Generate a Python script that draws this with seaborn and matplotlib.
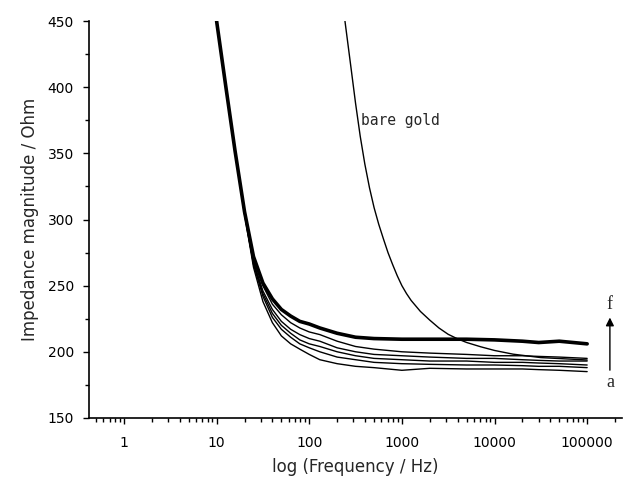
import numpy as np
import pandas as pd
import seaborn as sns
import matplotlib.pyplot as plt
from matplotlib.ticker import MultipleLocator, LogLocator, NullFormatter, FixedLocator, FixedFormatter

# frequencies (Hz) for the modified-electrode curves a..f
freq = [10, 12.6, 15.8, 20, 25, 31.6, 40, 50, 63, 79, 100, 130, 200, 316,
        500, 1000, 2000, 5000, 10000, 20000, 30000, 50000, 100000]

curve_a = [450, 400, 352, 304, 264, 238, 222, 212, 206, 202, 198, 194, 191, 189,
           188, 186, 187.5, 187, 187, 187, 186.5, 186, 185]
curve_b = [450, 400, 352, 305, 266, 242, 226, 217, 211, 206, 203, 200, 196, 194,
           192, 191, 190.5, 190, 190, 189.5, 189, 189, 188]
curve_c = [450, 400, 352, 305, 267, 244, 229, 220, 214, 209, 206, 204, 200, 197,
           195, 194, 193, 193, 192, 192, 191.5, 191, 190]
curve_d = [450, 400, 352, 305, 268, 246, 232, 223, 217, 213, 210, 208, 203, 200,
           198, 197, 196, 195, 195, 194, 193.5, 193, 193]
curve_e = [450, 400, 352, 306, 270, 250, 236, 228, 222, 218, 215, 213, 208, 204,
           202, 200, 199, 198, 197, 197, 196.5, 196, 195]
curve_f = [450, 400, 352, 306, 272, 252, 240, 232, 227, 223, 221, 218, 214, 211,
           210, 209.5, 209.5, 209.5, 209, 208, 207, 208, 206]

# bare gold electrode
gold_freq = [243, 282, 316, 355, 398, 447, 501, 562, 631, 708, 794, 891, 1000,
             1122, 1259, 1585, 1995, 2512, 3162, 3981, 5012, 7079, 10000, 15849,
             31623, 100000]
gold_vals = [450, 415, 388, 363, 342, 324, 309, 296.5, 285.5, 275, 266, 257.5, 250,
             244, 238.8, 230.5, 224, 218, 213.2, 209.8, 207, 203.8, 201, 198.2,
             195.6, 193.8]

y_ticks = [150, 200, 250, 300, 350, 400, 450]
x_ticks = [1, 10, 100, 1000, 10000, 100000]
x_tick_labels = ['1', '10', '100', '1000', '10000', '100000']

sns.set_style('ticks')
plt.rcParams['font.family'] = ['DejaVu Sans']

fig = plt.figure(figsize=(6.23, 4.82), dpi=100)
ax = fig.add_axes([0.143, 0.133, 0.856, 0.823])

for vals in [curve_a, curve_b, curve_c, curve_d, curve_e]:
    sns.lineplot(x=freq, y=vals, ax=ax, color='black', linewidth=1.0, sort=False)
sns.lineplot(x=freq, y=curve_f, ax=ax, color='black', linewidth=2.6, sort=False)
sns.lineplot(x=gold_freq, y=gold_vals, ax=ax, color='black', linewidth=1.0, sort=False)

ax.set_xscale('log')
ax.set_xlim(0.42, 2.4e5)
ax.set_ylim(150, 450)

ax.xaxis.set_major_locator(FixedLocator(x_ticks))
ax.xaxis.set_major_formatter(FixedFormatter(x_tick_labels))
ax.xaxis.set_minor_locator(LogLocator(base=10, subs=np.arange(2, 10), numticks=20))
ax.xaxis.set_minor_formatter(NullFormatter())
ax.yaxis.set_major_locator(FixedLocator(y_ticks))
ax.yaxis.set_minor_locator(MultipleLocator(25))

ax.tick_params(which='major', length=4, width=1.0, labelsize=10, color='black', labelcolor='black')
ax.tick_params(which='minor', length=3, width=1.0, color='black')
ax.tick_params(axis='y', pad=7)
ax.tick_params(axis='x', pad=9)

for s in ['top', 'right']:
    ax.spines[s].set_visible(False)
for s in ['left', 'bottom']:
    ax.spines[s].set_linewidth(1.2)
    ax.spines[s].set_color('black')

ax.set_xlabel('log (Frequency / Hz)', fontsize=12, labelpad=6)
ax.set_ylabel('Impedance magnitude / Ohm', fontsize=12, labelpad=6)

ax.text(362, 375, 'bare gold', fontsize=10.5, family='DejaVu Sans Mono', va='center', ha='left')

ax.annotate('', xy=(1.76e5, 228), xytext=(1.76e5, 184),
            arrowprops=dict(arrowstyle='-|>', color='black', lw=1.0, mutation_scale=12))
ax.text(1.76e5, 236, 'f', fontsize=13, family='Liberation Serif', ha='center', va='center')
ax.text(1.76e5, 177, 'a', fontsize=13, family='Liberation Serif', ha='center', va='center')

fig.savefig('out.png', dpi=100)
